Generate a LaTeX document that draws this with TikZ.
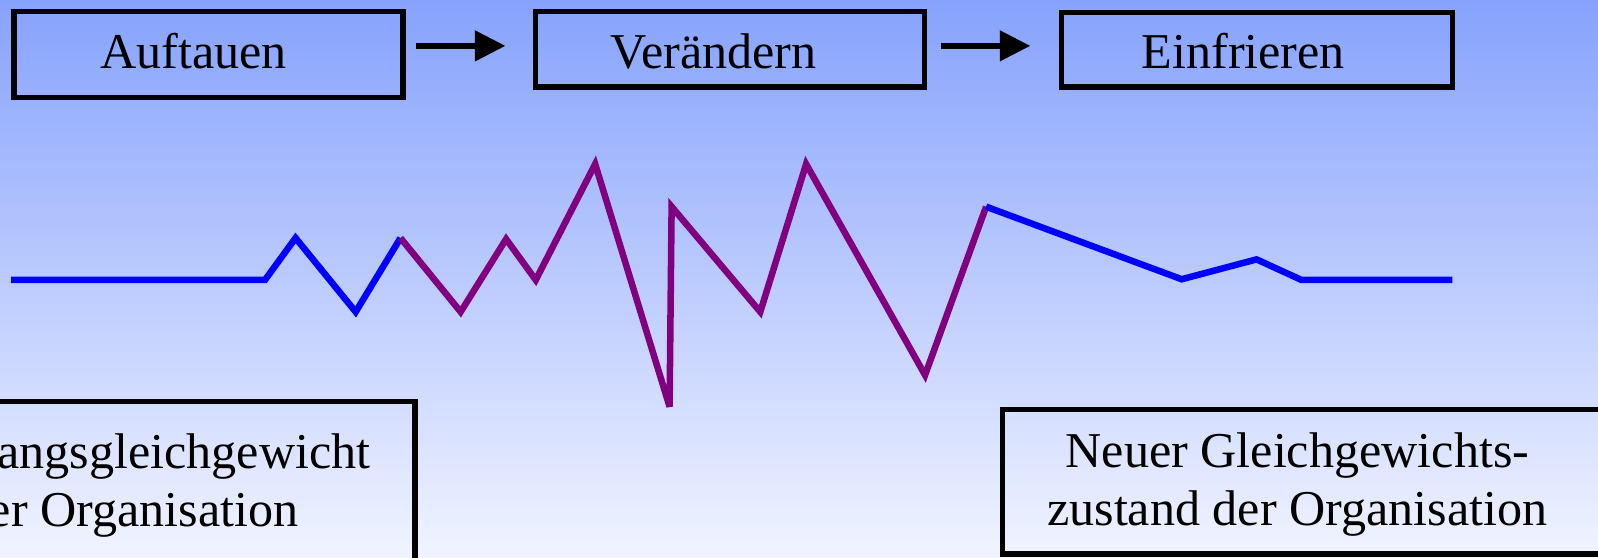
\documentclass[tikz,border=0pt]{standalone}
\usepackage{fontspec}
\setmainfont{Liberation Serif}
\usetikzlibrary{arrows.meta}
\definecolor{bgtop}{RGB}{134,162,252}
\definecolor{bgbot}{RGB}{241,244,255}
\definecolor{zigblue}{RGB}{0,0,255}
\definecolor{zigpurple}{RGB}{128,0,128}
\begin{document}
\begin{tikzpicture}[x=0.5pt,y=-0.5pt,
  box/.style={draw=black,line width=2.6pt,inner sep=0pt,fill=none},
  lbl/.style={font=\fontsize{24.6}{28}\selectfont,anchor=base,inner sep=0pt},
  flow/.style={line width=2.9pt,-{Triangle[length=15pt,width=14.5pt]}},
  zig/.style={line width=3.2pt,miter limit=3}]
\useasboundingbox (0,0) rectangle (1568,547.5);
\clip (0,0) rectangle (1568,547.5);
\shade[top color=bgtop,bottom color=bgbot] (0,0) rectangle (1568,547.5);
% top boxes
\node[box,minimum width=190.9pt,minimum height=41.9pt] (b1) at (204.5,53.5) {};
\node[box,minimum width=190.9pt,minimum height=36.9pt] (b2) at (716.5,48.5) {};
\node[box,minimum width=191.9pt,minimum height=36.4pt] (b3) at (1233.5,49) {};
\node[lbl] (t1) at (190,67) {Auftauen};
\node[lbl] (t2) at (700,67) {Verändern};
\node[lbl] (t3) at (1220,67) {Einfrieren};
% arrows
\coordinate (a1s) at (408,45);
\coordinate (a1e) at (496,45);
\coordinate (a2s) at (923.6,45);
\coordinate (a2e) at (1011,45);
\draw[flow] (a1s) -- (a1e);
\draw[flow] (a2s) -- (a2e);
% bottom boxes
\node[box,minimum width=278.6pt,minimum height=103pt] (b4) at (128.6,496.8) {};
\node[box,minimum width=313.2pt,minimum height=70.75pt] (b5) at (1296.8,472.75) {};
\node[lbl] (t4a) at (128.6,459.5) {Ausgangsgleichgewicht};
\node[lbl] (t4b) at (128.6,517) {der Organisation};
\node[lbl] (t5a) at (1273,459) {Neuer Gleichgewichts-};
\node[lbl] (t5b) at (1273,516) {zustand der Organisation};
% zigzag
\coordinate (z0) at (11,274.7);
\coordinate (z1) at (260,274.7);
\coordinate (z2) at (290,233.5);
\coordinate (z3) at (349,306);
\coordinate (z4) at (393,233.5);
\coordinate (z5) at (452,306);
\coordinate (z6) at (496.6,234.6);
\coordinate (z7) at (525.7,274.7);
\coordinate (z8) at (584,161);
\coordinate (z9) at (657,399);
\coordinate (z10) at (659,202.8);
\coordinate (z11) at (746,306);
\coordinate (z12) at (791,161);
\coordinate (z13) at (907.7,368);
\coordinate (z14) at (967.6,202.8);
\coordinate (z15) at (1159.5,274);
\coordinate (z16) at (1233,254.5);
\coordinate (z17) at (1277,274.7);
\coordinate (z18) at (1425,274.7);
\draw[zig,zigblue] (z0) -- (z1) -- (z2) -- (z3) -- (z4);
\draw[zig,zigpurple] (z4) -- (z5) -- (z6) -- (z7) -- (z8) -- (z9) -- (z10) -- (z11) -- (z12) -- (z13) -- (z14);
\draw[zig,zigblue] (z14) -- (z15) -- (z16) -- (z17) -- (z18);
\end{tikzpicture}
\end{document}
